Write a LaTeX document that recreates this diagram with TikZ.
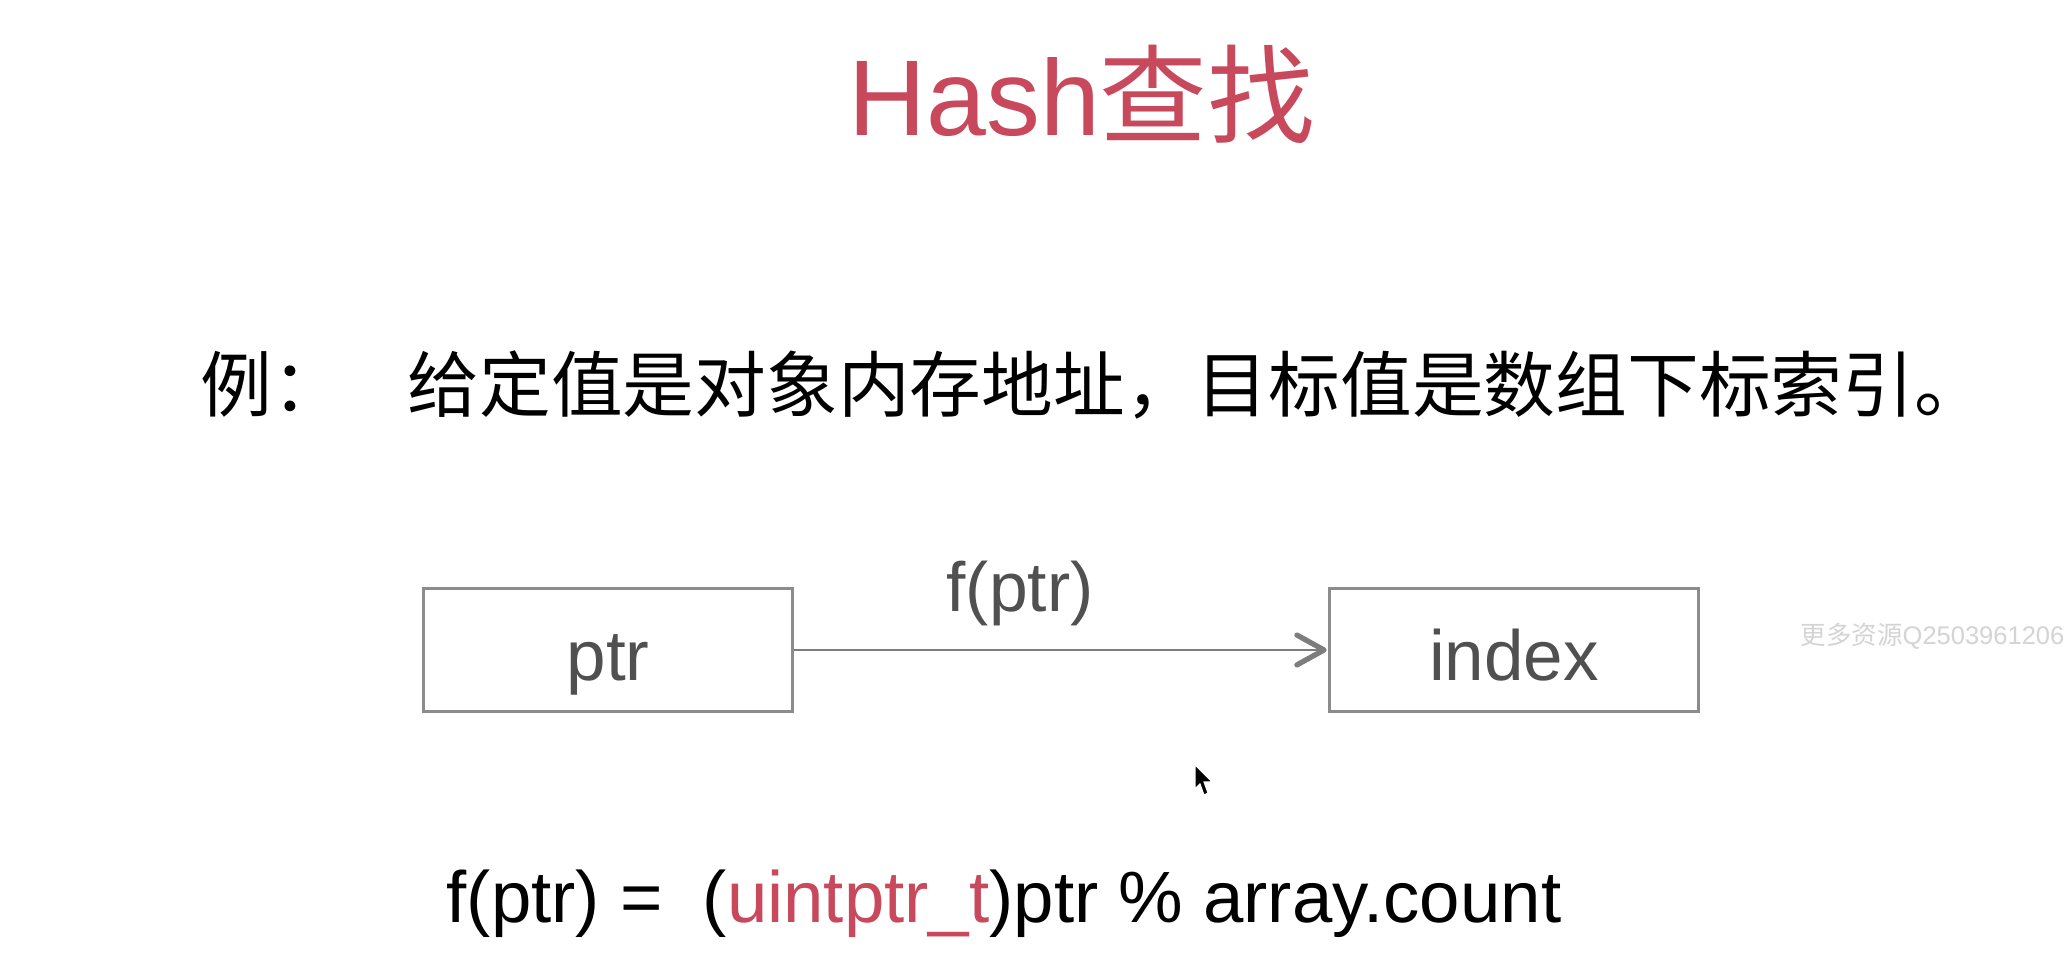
\documentclass[tikz,border=0pt]{standalone}
\usepackage{fontspec}
\setmainfont{Liberation Sans}
\newfontfamily\cjk{Noto Sans CJK SC}
\usetikzlibrary{arrows.meta}
\definecolor{titlered}{RGB}{200,72,92}
\definecolor{boxgray}{RGB}{140,140,140}
\definecolor{arrowgray}{RGB}{125,125,125}
\definecolor{textgray}{RGB}{80,80,80}
\definecolor{wmgray}{RGB}{212,212,212}
\begin{document}
\begin{tikzpicture}[x=0.01cm,y=-0.01cm,
  hbox/.style={draw=boxgray, line width=0.85pt, minimum width=3.68cm, minimum height=1.22cm,
    inner sep=0pt, text height=0.6cm, text depth=0pt, text=textgray,
    font=\fontsize{20.2}{24}\selectfont},
  conn/.style={draw=arrowgray, line width=0.7pt,
    -{Straight Barb[length=7.7pt,width=8.5pt,line width=1.5pt,round]}, shorten >=0.5pt},
  plain/.style={inner sep=0pt}]
\useasboundingbox (0,0) rectangle (2068,974);
\fill[white] (0,0) rectangle (2068,974);
% title
\node[plain, anchor=base west, text=titlered, font=\fontsize{30.6}{36}\selectfont] (title) at (848,136) {Hash{\cjk 查找}};
% example line
\node[plain, anchor=base west, font=\cjk\fontsize{20.4}{24}\selectfont] (ex) at (200,412) {例：};
\node[plain, anchor=base west, font=\cjk\fontsize{20.4}{24}\selectfont] (desc) at (407,412) {给定值是对象内存地址，目标值是数组下标索引。};
% boxes
\node[hbox] (ptr) at (608,650) {ptr};
\node[hbox] (index) at (1514,650) {index};
\draw[conn] (ptr.east) -- (index.west);
\node[plain, anchor=base, text=textgray, font=\fontsize{19.8}{24}\selectfont] (flabel) at (1020,612) {f(ptr)};
% watermark
\node[plain, anchor=base west, text=wmgray, font=\fontsize{7.25}{9}\selectfont] (wm) at (1800,645) {{\cjk 更多资源}Q2503961206};
% formula
\node[plain, anchor=base west, font=\fontsize{20.65}{24}\selectfont] (formula) at (446,923) {f(ptr) =\ \ (\textcolor{titlered}{uintptr\_t})ptr \% array.count};
% mouse cursor
\fill[black, draw=white, line width=0.3pt] (1195,765) -- (1195,789) -- (1200,784) -- (1204,795) -- (1208,793) -- (1204,782) -- (1212,782) -- cycle;
\end{tikzpicture}
\end{document}
